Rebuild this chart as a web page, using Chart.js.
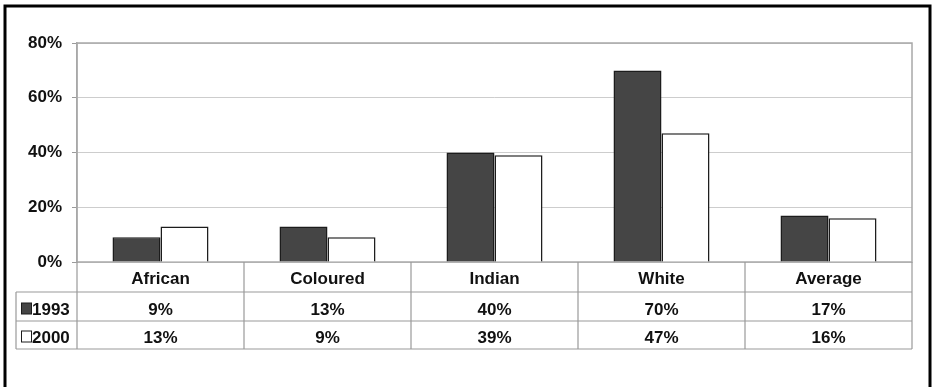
<!DOCTYPE html>
<html>
<head>
<meta charset="utf-8">
<script src="https://cdn.jsdelivr.net/npm/chart.js@4/dist/chart.umd.min.js"></script>
<style>
  html, body { margin: 0; padding: 0; background: #fff; }
  canvas { display: block; }
</style>
</head>
<body>
<canvas id="chart" width="935" height="387"></canvas>
<script>
// Share of each group, 1993 vs 2000 (percent)
const categories = ['African', 'Coloured', 'Indian', 'White', 'Average'];
const seriesNames = ['1993', '2000'];
const values1993 = [9, 13, 40, 70, 17];
const values2000 = [13, 9, 39, 47, 16];
const yTicks = [0, 20, 40, 60, 80];

const FAMILY = '"Liberation Sans", Arial, sans-serif';
const FONT = 'bold 17px ' + FAMILY;
const DARK = '#454545';
const EDGE = '#1c1c1c';
const LINE = '#9a9a9a';

// Frame, plot box and the data table under the plot
const tablePlugin = {
  id: 'tablePlugin',
  beforeDraw(chart) {
    const ctx = chart.ctx;
    ctx.save();
    ctx.fillStyle = '#fff';
    ctx.fillRect(0, 0, chart.width, chart.height);
    ctx.restore();
  },
  beforeDatasetsDraw(chart) {
    const { ctx, chartArea: a } = chart;
    ctx.save();
    ctx.strokeStyle = '#a8a8a8';
    ctx.lineWidth = 1.5;
    ctx.strokeRect(a.left, a.top, a.right - a.left, a.bottom - a.top);
    ctx.restore();
  },
  afterDraw(chart) {
    const { ctx, chartArea: a } = chart;
    const x = chart.scales.x;
    const n = categories.length;
    const colW = (a.right - a.left) / n;
    const rowTop = a.bottom;
    const row1 = rowTop + 30;
    const row2 = row1 + 29;
    const row3 = row2 + 28;
    const tableLeft = 16;

    ctx.save();
    ctx.strokeStyle = LINE;
    ctx.lineWidth = 1.2;
    ctx.beginPath();
    // horizontal rules
    ctx.moveTo(tableLeft, row1); ctx.lineTo(a.right, row1);
    ctx.moveTo(tableLeft, row2); ctx.lineTo(a.right, row2);
    ctx.moveTo(tableLeft, row3); ctx.lineTo(a.right, row3);
    // vertical rules at the category boundaries
    for (let i = 0; i <= n; i++) {
      const xx = a.left + i * colW;
      ctx.moveTo(xx, rowTop); ctx.lineTo(xx, row3);
    }
    ctx.moveTo(tableLeft, row1); ctx.lineTo(tableLeft, row3);
    ctx.stroke();

    // text
    ctx.fillStyle = '#111';
    ctx.font = FONT;
    ctx.textAlign = 'center';
    ctx.textBaseline = 'alphabetic';
    const rows = [values1993, values2000];
    const base = [row1 + 23, row2 + 22];
    categories.forEach((c, i) => {
      const cx = x.getPixelForValue(i);
      ctx.fillText(c, cx, rowTop + 21.5);
      ctx.fillText(rows[0][i] + '%', cx, base[0]);
      ctx.fillText(rows[1][i] + '%', cx, base[1]);
    });

    // legend keys in the row headers
    const keyY = [row1 + 11, row2 + 10];
    ctx.textAlign = 'left';
    seriesNames.forEach((s, k) => {
      const ds = chart.data.datasets[k];
      ctx.fillStyle = ds.backgroundColor;
      ctx.fillRect(21.5, keyY[k], 10, 11);
      ctx.strokeStyle = EDGE;
      ctx.lineWidth = 1;
      ctx.strokeRect(21.5, keyY[k], 10, 11);
      ctx.fillStyle = '#111';
      ctx.fillText(s, 32, base[k]);
    });

    // outer frame
    ctx.strokeStyle = '#000';
    ctx.lineWidth = 3;
    ctx.strokeRect(5, 6, 925, 400);
    ctx.restore();
  }
};

new Chart(document.getElementById('chart'), {
  type: 'bar',
  data: {
    labels: categories,
    datasets: [
      {
        label: seriesNames[0],
        data: values1993,
        backgroundColor: DARK,
        borderColor: EDGE,
        borderWidth: 1.5
      },
      {
        label: seriesNames[1],
        data: values2000,
        backgroundColor: '#ffffff',
        borderColor: EDGE,
        borderWidth: 1.5
      }
    ]
  },
  options: {
    responsive: false,
    devicePixelRatio: 1,
    animation: false,
    layout: { padding: { left: 0, right: 23, top: 43, bottom: 125 } },
    datasets: { bar: { categoryPercentage: 0.575, barPercentage: 1.0 } },
    plugins: {
      legend: { display: false },
      tooltip: { enabled: false }
    },
    scales: {
      x: {
        display: false,
        offset: true
      },
      y: {
        min: 0,
        max: 80,
        afterBuildTicks(scale) {
          scale.ticks = yTicks.map(v => ({ value: v }));
        },
        afterFit(scale) { scale.width = 77; },
        border: { display: true, color: '#a8a8a8', width: 1.5 },
        grid: {
          color: '#cdcdcd',
          lineWidth: 1,
          tickColor: '#9a9a9a',
          tickLength: 5
        },
        ticks: {
          padding: 10,
          color: '#111',
          font: { family: FAMILY, size: 17, weight: 'bold' },
          callback: v => v + '%'
        }
      }
    }
  },
  plugins: [tablePlugin]
});
</script>
</body>
</html>
